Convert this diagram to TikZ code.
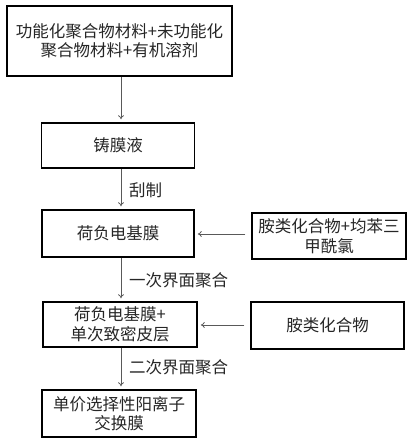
\documentclass[tikz,border=0pt]{standalone}
\usepackage{fontspec}
\setmainfont{Noto Sans CJK SC}
\usetikzlibrary{arrows.meta}
\tikzset{
  passo/.style={draw=black, line width=1.5pt, align=center, inner sep=0pt,
    text=black!85, font=\fontsize{16.5}{19.5}\selectfont},
  freccia/.style={draw=black!65, line width=0.8pt, -{To[length=4pt,width=6pt]}},
  etichetta/.style={anchor=west, inner sep=0pt, text=black!85,
    font=\fontsize{16.5}{19.5}\selectfont}
}
\begin{document}
\begin{tikzpicture}[x=1pt,y=-1pt]
			\useasboundingbox (0,0) rectangle (411,444);
			% Nodi
			\node[passo, minimum width=225, minimum height=70] (mat) at (119.5,41) {功能化聚合物材料+未功能化\\聚合物材料+有机溶剂};
			\node[passo, minimum width=153, minimum height=45] (liq) at (118,145.5) {铸膜液};
			\node[passo, minimum width=152, minimum height=47] (base) at (118,233.5) {荷负电基膜};
			\node[passo, minimum width=154, minimum height=46] (reag1) at (329,236) {胺类化合物+均苯三\\甲酰氯};
			\node[passo, minimum width=154, minimum height=45] (pelle) at (120,324.5) {荷负电基膜+\\单次致密皮层};
			\node[passo, minimum width=153, minimum height=47] (reag2) at (327.5,325.5) {胺类化合物};
			\node[passo, minimum width=154, minimum height=47] (memb) at (119,413.5) {单价选择性阳离子\\交换膜};
			
			\node[etichetta] (lab1) at (129,190) {刮制};
			\node[etichetta] (lab2) at (129,280) {一次界面聚合};
			\node[etichetta] (lab3) at (129,367) {二次界面聚合};
			
			% Collegamenti
			\draw[freccia, shorten >=3pt] (mat.south -| 121,0) -- (liq.north -| 121,0);
			\draw[freccia, shorten >=3pt] (liq.south -| 121,0) -- (base.north -| 121,0);
			\draw[freccia, shorten >=3pt] (base.south -| 121,0) -- (pelle.north -| 121,0);
			\draw[freccia, shorten >=3pt] (pelle.south -| 121,0) -- (memb.north -| 121,0);
			
			\draw[freccia, shorten <=6pt, shorten >=3pt] (reag1.west |- 0,234) -- (base.east |- 0,234);
			\draw[freccia, shorten <=6pt, shorten >=3pt] (reag2.west |- 0,325) -- (pelle.east |- 0,325);
		\end{tikzpicture}
\end{document}
